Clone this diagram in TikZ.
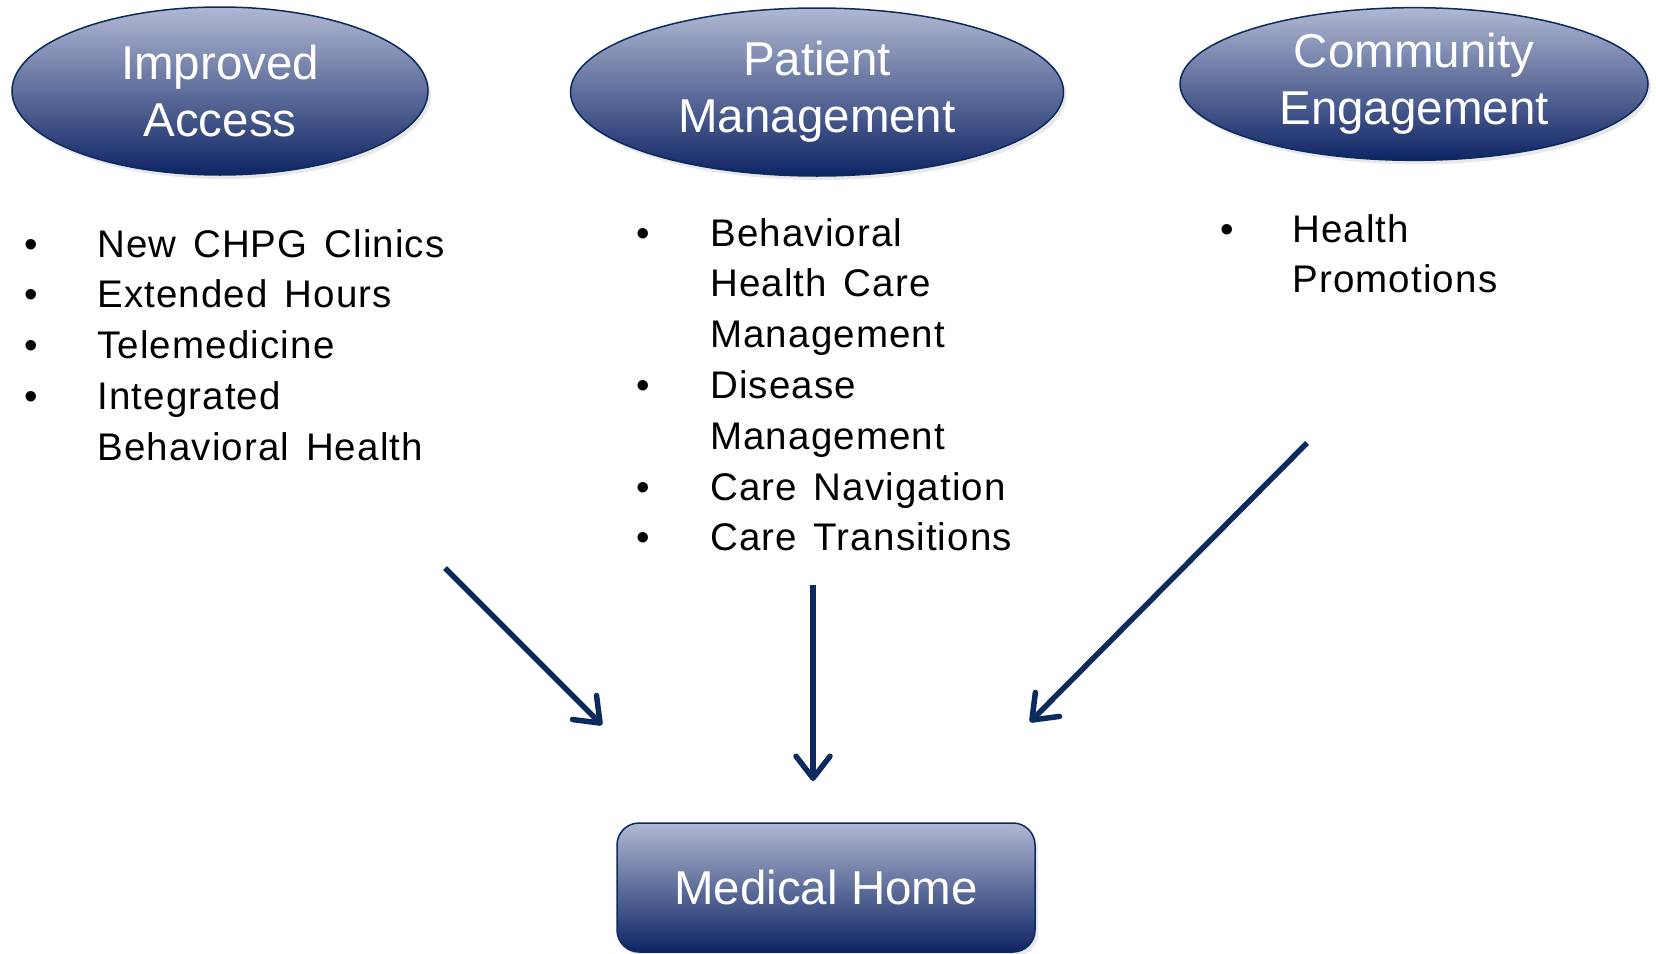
\documentclass[tikz,border=0pt]{standalone}
\usepackage{fontspec}
\setmainfont{Liberation Sans}
\newfontfamily\listfont[LetterSpace=3,WordSpace=1.4]{Liberation Sans}
\usepackage{pgf,tikz}
\usetikzlibrary{arrows.meta}
\usetikzlibrary{shapes,shadows}

\definecolor{navyTop}{RGB}{176,184,210}
\definecolor{navyBottom}{RGB}{14,36,100}
\definecolor{navyEdge}{RGB}{10,42,96}

\begin{document}
\begin{tikzpicture}[x=1pt,y=-1pt]
    \tikzstyle{goal}=[ellipse, draw=navyEdge, line width=1.5pt, top color=navyTop, bottom color=navyBottom,
        text=white, align=center, font=\fontsize{47.5}{57}\selectfont,
        drop shadow={opacity=0.18, shadow xshift=3pt, shadow yshift=-4pt}]
    \tikzstyle{hub}=[rectangle, rounded corners=22pt, draw=navyEdge, line width=1.5pt, top color=navyTop, bottom color=navyBottom,
        text=white, font=\fontsize{47.5}{57}\selectfont, minimum width=418pt, minimum height=129pt,
        drop shadow={opacity=0.18, shadow xshift=3pt, shadow yshift=-4pt}]
    \tikzstyle{bullets}=[anchor=base west, inner sep=0pt, font=\listfont\fontsize{38.5}{50.8}\selectfont]
    \tikzstyle{feed}=[draw=navyEdge, line width=5.5pt, -{Straight Barb[length=22pt,width=34pt,round]}]

    \useasboundingbox (0,0) rectangle (1656,953);

    % the three ovals
    \node[goal, minimum width=416pt, minimum height=168pt] (accessGoal) at (220,91) {Improved\\Access};
    \node[goal, minimum width=493pt, minimum height=168pt] (patientGoal) at (817,92) {Patient\\Management};
    \node[goal, minimum width=468pt, minimum height=150pt] (communityGoal) at (1414,84) {Community\\Engagement};

    % what sits under each oval
    \node[bullets] (accessList) at (24,257) {\begin{tabular}[t]{@{}p{73pt}@{}l@{}}
        \textbullet & New CHPG Clinics\\
        \textbullet & Extended Hours\\
        \textbullet & Telemedicine\\
        \textbullet & Integrated\\
                    & Behavioral Health
    \end{tabular}};
    \node[bullets] (patientList) at (636,246) {\begin{tabular}[t]{@{}p{74pt}@{}l@{}}
        \textbullet & Behavioral\\
                    & Health Care\\
                    & Management\\
        \textbullet & Disease\\
                    & Management\\
        \textbullet & Care Navigation\\
        \textbullet & Care Transitions
    \end{tabular}};
    \node[bullets] (communityList) at (1220,242) {\begin{tabular}[t]{@{}p{72pt}@{}l@{}}
        \textbullet & Health\\
                    & Promotions
    \end{tabular}};

    \node[hub] (medicalHome) at (826,887.5) {Medical Home};

    % arrows into the medical home
    \coordinate (accessTail) at (445,568);
    \coordinate (accessTip) at (602,725);
    \coordinate (patientTail) at (813,585);
    \coordinate (patientTip) at (813,781);
    \coordinate (communityTail) at (1307,443);
    \coordinate (communityTip) at (1030,722);

    \draw[feed] (accessTail) -- (accessTip);
    \draw[feed] (patientTail) -- (patientTip);
    \draw[feed] (communityTail) -- (communityTip);
\end{tikzpicture}
\end{document}
